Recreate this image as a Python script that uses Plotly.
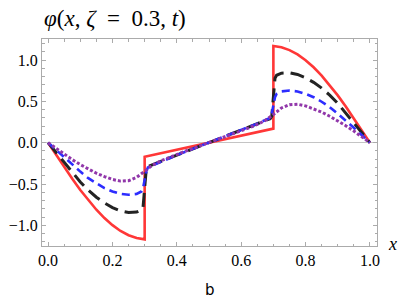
import plotly.graph_objects as go

# Red (solid)
x_red = [0.0, 0.025, 0.05, 0.075, 0.1, 0.125, 0.15, 0.175, 0.2, 0.225, 0.25, 0.275, 0.3,
         0.3, 0.4, 0.5, 0.6, 0.7,
         0.7, 0.725, 0.75, 0.775, 0.8, 0.825, 0.85, 0.875, 0.9, 0.925, 0.95, 0.975, 1.0]
y_red = [0.0, -0.149, -0.295, -0.437, -0.572, -0.697, -0.811, -0.912, -0.998, -1.068, -1.120, -1.154, -1.17,
         -0.17, -0.085, 0.0, 0.085, 0.17,
         1.17, 1.154, 1.120, 1.068, 0.998, 0.912, 0.811, 0.697, 0.572, 0.437, 0.295, 0.149, 0.0]

# Black (long dash) and blue (dash) share a grid
x_bb = [0.0, 0.025, 0.05, 0.075, 0.1, 0.125, 0.15, 0.175, 0.2, 0.225, 0.25, 0.275, 0.29, 0.295,
        0.3, 0.305, 0.31, 0.35, 0.4, 0.45, 0.5, 0.55, 0.6, 0.65, 0.69, 0.695, 0.7, 0.705, 0.71,
        0.725, 0.75, 0.775, 0.8, 0.825, 0.85, 0.875, 0.9, 0.925, 0.95, 0.975, 1.0]
y_black = [0.0, -0.12, -0.24, -0.36, -0.475, -0.575, -0.66, -0.73, -0.785, -0.825, -0.845, -0.84, -0.815, -0.78,
           -0.53, -0.32, -0.29, -0.225, -0.15, -0.075, 0.0, 0.075, 0.15, 0.225, 0.29, 0.32, 0.53, 0.78, 0.815,
           0.84, 0.845, 0.825, 0.785, 0.73, 0.66, 0.575, 0.475, 0.36, 0.24, 0.12, 0.0]
y_blue = [0.0, -0.09, -0.18, -0.27, -0.35, -0.43, -0.495, -0.55, -0.59, -0.62, -0.63, -0.62, -0.59, -0.55,
          -0.45, -0.35, -0.3, -0.23, -0.15, -0.075, 0.0, 0.075, 0.15, 0.23, 0.3, 0.35, 0.45, 0.55, 0.59,
          0.62, 0.63, 0.62, 0.59, 0.55, 0.495, 0.43, 0.35, 0.27, 0.18, 0.09, 0.0]

# Purple (dotted)
x_purple = [0.0, 0.025, 0.05, 0.075, 0.1, 0.125, 0.15, 0.175, 0.2, 0.225, 0.25, 0.275, 0.3, 0.325,
            0.35, 0.375, 0.4, 0.425, 0.45, 0.475, 0.5, 0.525, 0.55, 0.575, 0.6, 0.625, 0.65, 0.675,
            0.7, 0.725, 0.75, 0.775, 0.8, 0.825, 0.85, 0.875, 0.9, 0.925, 0.95, 0.975, 1.0]
y_purple = [0.0, -0.07, -0.14, -0.205, -0.265, -0.32, -0.37, -0.41, -0.445, -0.465, -0.46, -0.42, -0.34, -0.27,
            -0.22, -0.18, -0.14, -0.105, -0.07, -0.035, 0.0, 0.035, 0.07, 0.105, 0.14, 0.18, 0.22, 0.27,
            0.34, 0.42, 0.46, 0.465, 0.445, 0.41, 0.37, 0.32, 0.265, 0.205, 0.14, 0.07, 0.0]

x_ticks = [0.0, 0.2, 0.4, 0.6, 0.8, 1.0]
y_ticks = [-1.0, -0.5, 0.0, 0.5, 1.0]

SERIF = "Liberation Serif"

fig = go.Figure()
fig.add_trace(go.Scatter(x=x_red, y=y_red, mode="lines",
                         line=dict(color="rgb(255,55,55)", width=2.6)))
fig.add_trace(go.Scatter(x=x_bb, y=y_black, mode="lines",
                         line=dict(color="rgb(35,35,35)", width=3, dash="14px,7px")))
fig.add_trace(go.Scatter(x=x_bb, y=y_blue, mode="lines",
                         line=dict(color="rgb(45,45,255)", width=2.6, dash="8px,5px")))
fig.add_trace(go.Scatter(x=x_purple, y=y_purple, mode="lines",
                         line=dict(color="rgb(145,55,170)", width=3, dash="3px,2px")))

frame = "#ababab"
tickfont = dict(family=SERIF, size=16, color="black")
fig.update_layout(
    width=409, height=307,
    margin=dict(l=42, r=32, t=39, b=61),
    plot_bgcolor="white", paper_bgcolor="white",
    showlegend=False,
    font=dict(family=SERIF),
    xaxis=dict(range=[-0.019, 1.022], tickvals=x_ticks, ticktext=["%.1f" % v for v in x_ticks],
               automargin=False,
               ticks="inside", ticklen=4, tickcolor=frame, showline=True, linecolor=frame,
               linewidth=1, mirror="allticks", showgrid=False, zeroline=False,
               tickfont=tickfont,
               minor=dict(ticks="inside", dtick=0.05, tick0=0, ticklen=2.5, tickcolor=frame, showgrid=False)),
    yaxis=dict(range=[-1.25, 1.254], tickvals=y_ticks,
               ticktext=["\u22121.0", "\u22120.5", "0.0", "0.5", "1.0"],
               automargin=False,
               ticks="inside", ticklen=4, tickcolor=frame, showline=True, linecolor=frame,
               linewidth=1, mirror="allticks", showgrid=False,
               zeroline=True, zerolinecolor="#c4c4c4", zerolinewidth=1,
               tickfont=tickfont,
               minor=dict(ticks="inside", dtick=0.1, tick0=0, ticklen=2.5, tickcolor=frame, showgrid=False)),
    annotations=[
        dict(text="<i>\u03c6</i>(<i>x</i>, <i>\u03b6</i>\u2002=\u20020.3, <i>t</i>)",
             xref="paper", yref="paper",
             x=0.0, y=1.101, xanchor="left", yanchor="middle", showarrow=False,
             font=dict(family=SERIF, size=23, color="black")),
        dict(text="<i>x</i>", xref="paper", yref="paper", x=1.045, y=0.01,
             xanchor="center", yanchor="middle", showarrow=False,
             font=dict(family=SERIF, size=18, color="black")),
        dict(text="b", xref="paper", yref="paper", x=0.5015, y=-0.2126,
             xanchor="center", yanchor="middle", showarrow=False,
             font=dict(family="DejaVu Sans", size=15, color="black")),
    ],
)

fig.write_html("out.html",
               config={"displayModeBar": False},
               post_script="document.body.style.margin='0';document.body.style.padding='0';")
